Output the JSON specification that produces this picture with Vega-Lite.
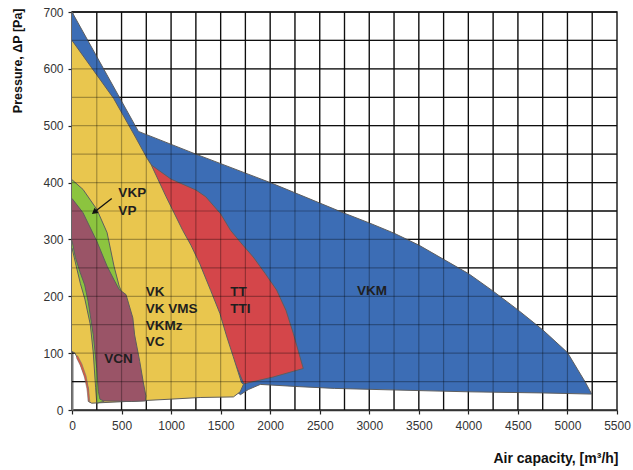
{
  "$schema": "https://vega.github.io/schema/vega-lite/v6.json",
  "width": 545,
  "height": 398,
  "autosize": "none",
  "padding": {"left": 72, "top": 12, "right": 16, "bottom": 60},
  "background": "white",
  "config": {"view": {"stroke": "#222", "strokeWidth": 1.5}, "font": "Liberation Sans"},
  "datasets": {
    "poly": [
      {"p": "blue", "i": 0, "x": 0, "y": 700},
      {"p": "blue", "i": 1, "x": 670, "y": 490},
      {"p": "blue", "i": 2, "x": 1250, "y": 450},
      {"p": "blue", "i": 3, "x": 2000, "y": 400},
      {"p": "blue", "i": 4, "x": 2500, "y": 364},
      {"p": "blue", "i": 5, "x": 2750, "y": 346},
      {"p": "blue", "i": 6, "x": 3000, "y": 329},
      {"p": "blue", "i": 7, "x": 3250, "y": 311},
      {"p": "blue", "i": 8, "x": 3500, "y": 290},
      {"p": "blue", "i": 9, "x": 3750, "y": 265},
      {"p": "blue", "i": 10, "x": 4000, "y": 240},
      {"p": "blue", "i": 11, "x": 4250, "y": 209},
      {"p": "blue", "i": 12, "x": 4500, "y": 176},
      {"p": "blue", "i": 13, "x": 4750, "y": 141},
      {"p": "blue", "i": 14, "x": 5000, "y": 101},
      {"p": "blue", "i": 15, "x": 5100, "y": 72},
      {"p": "blue", "i": 16, "x": 5180, "y": 49},
      {"p": "blue", "i": 17, "x": 5245, "y": 28},
      {"p": "blue", "i": 18, "x": 4750, "y": 30},
      {"p": "blue", "i": 19, "x": 4000, "y": 32},
      {"p": "blue", "i": 20, "x": 3300, "y": 35},
      {"p": "blue", "i": 21, "x": 2650, "y": 38},
      {"p": "blue", "i": 22, "x": 2300, "y": 41},
      {"p": "blue", "i": 23, "x": 2000, "y": 44},
      {"p": "blue", "i": 24, "x": 1900, "y": 45},
      {"p": "blue", "i": 25, "x": 1780, "y": 36},
      {"p": "blue", "i": 26, "x": 1700, "y": 27},
      {"p": "blue", "i": 27, "x": 1600, "y": 40},
      {"p": "blue", "i": 28, "x": 800, "y": 300},
      {"p": "blue", "i": 29, "x": 0, "y": 600},

      {"p": "red", "i": 0, "x": 760, "y": 442},
      {"p": "red", "i": 1, "x": 800, "y": 431},
      {"p": "red", "i": 2, "x": 1000, "y": 406},
      {"p": "red", "i": 3, "x": 1250, "y": 387},
      {"p": "red", "i": 4, "x": 1350, "y": 375},
      {"p": "red", "i": 5, "x": 1500, "y": 345},
      {"p": "red", "i": 6, "x": 1600, "y": 316},
      {"p": "red", "i": 7, "x": 1700, "y": 295},
      {"p": "red", "i": 8, "x": 1829, "y": 269},
      {"p": "red", "i": 9, "x": 1950, "y": 240},
      {"p": "red", "i": 10, "x": 2065, "y": 211},
      {"p": "red", "i": 11, "x": 2160, "y": 175},
      {"p": "red", "i": 12, "x": 2233, "y": 135},
      {"p": "red", "i": 13, "x": 2290, "y": 100},
      {"p": "red", "i": 14, "x": 2334, "y": 73},
      {"p": "red", "i": 15, "x": 2030, "y": 58},
      {"p": "red", "i": 16, "x": 1735, "y": 46},
      {"p": "red", "i": 17, "x": 1600, "y": 100},
      {"p": "red", "i": 18, "x": 900, "y": 380},

      {"p": "yellow", "i": 0, "x": 0, "y": 650},
      {"p": "yellow", "i": 1, "x": 420, "y": 548},
      {"p": "yellow", "i": 2, "x": 640, "y": 480},
      {"p": "yellow", "i": 3, "x": 760, "y": 442},
      {"p": "yellow", "i": 4, "x": 800, "y": 431},
      {"p": "yellow", "i": 5, "x": 950, "y": 375},
      {"p": "yellow", "i": 6, "x": 1117, "y": 316},
      {"p": "yellow", "i": 7, "x": 1200, "y": 290},
      {"p": "yellow", "i": 8, "x": 1290, "y": 257},
      {"p": "yellow", "i": 9, "x": 1400, "y": 210},
      {"p": "yellow", "i": 10, "x": 1492, "y": 170},
      {"p": "yellow", "i": 11, "x": 1560, "y": 130},
      {"p": "yellow", "i": 12, "x": 1627, "y": 94},
      {"p": "yellow", "i": 13, "x": 1711, "y": 48},
      {"p": "yellow", "i": 14, "x": 1730, "y": 45},
      {"p": "yellow", "i": 15, "x": 1697, "y": 32},
      {"p": "yellow", "i": 16, "x": 1629, "y": 23},
      {"p": "yellow", "i": 17, "x": 1293, "y": 22},
      {"p": "yellow", "i": 18, "x": 990, "y": 19},
      {"p": "yellow", "i": 19, "x": 552, "y": 15},
      {"p": "yellow", "i": 20, "x": 199, "y": 12},
      {"p": "yellow", "i": 21, "x": 165, "y": 15},
      {"p": "yellow", "i": 22, "x": 163, "y": 38},
      {"p": "yellow", "i": 23, "x": 131, "y": 59},
      {"p": "yellow", "i": 24, "x": 81, "y": 82},
      {"p": "yellow", "i": 25, "x": 30, "y": 100},
      {"p": "yellow", "i": 26, "x": 0, "y": 103},

      {"p": "orange", "i": 0, "x": 45, "y": 92},
      {"p": "orange", "i": 1, "x": 85, "y": 78},
      {"p": "orange", "i": 2, "x": 125, "y": 58},
      {"p": "orange", "i": 3, "x": 150, "y": 38},
      {"p": "orange", "i": 4, "x": 165, "y": 16},
      {"p": "orange", "i": 5, "x": 180, "y": 14},
      {"p": "orange", "i": 6, "x": 168, "y": 36},
      {"p": "orange", "i": 7, "x": 142, "y": 60},
      {"p": "orange", "i": 8, "x": 100, "y": 81},
      {"p": "orange", "i": 9, "x": 55, "y": 96},

      {"p": "green", "i": 0, "x": 0, "y": 405},
      {"p": "green", "i": 1, "x": 111, "y": 388},
      {"p": "green", "i": 2, "x": 250, "y": 353},
      {"p": "green", "i": 3, "x": 354, "y": 312},
      {"p": "green", "i": 4, "x": 424, "y": 253},
      {"p": "green", "i": 5, "x": 476, "y": 218},
      {"p": "green", "i": 6, "x": 493, "y": 211},
      {"p": "green", "i": 7, "x": 500, "y": 150},
      {"p": "green", "i": 8, "x": 320, "y": 15},
      {"p": "green", "i": 9, "x": 250, "y": 12},
      {"p": "green", "i": 10, "x": 238, "y": 40},
      {"p": "green", "i": 11, "x": 215, "y": 100},
      {"p": "green", "i": 12, "x": 185, "y": 150},
      {"p": "green", "i": 13, "x": 130, "y": 195},
      {"p": "green", "i": 14, "x": 85, "y": 222},
      {"p": "green", "i": 15, "x": 40, "y": 255},
      {"p": "green", "i": 16, "x": 0, "y": 285},

      {"p": "purple", "i": 0, "x": 0, "y": 372},
      {"p": "purple", "i": 1, "x": 111, "y": 347},
      {"p": "purple", "i": 2, "x": 250, "y": 297},
      {"p": "purple", "i": 3, "x": 354, "y": 253},
      {"p": "purple", "i": 4, "x": 424, "y": 229},
      {"p": "purple", "i": 5, "x": 476, "y": 212},
      {"p": "purple", "i": 6, "x": 545, "y": 203},
      {"p": "purple", "i": 7, "x": 614, "y": 162},
      {"p": "purple", "i": 8, "x": 632, "y": 132},
      {"p": "purple", "i": 9, "x": 684, "y": 85},
      {"p": "purple", "i": 10, "x": 718, "y": 50},
      {"p": "purple", "i": 11, "x": 745, "y": 25},
      {"p": "purple", "i": 12, "x": 740, "y": 16},
      {"p": "purple", "i": 13, "x": 600, "y": 15},
      {"p": "purple", "i": 14, "x": 320, "y": 16},
      {"p": "purple", "i": 15, "x": 282, "y": 19},
      {"p": "purple", "i": 16, "x": 267, "y": 32},
      {"p": "purple", "i": 17, "x": 250, "y": 73},
      {"p": "purple", "i": 18, "x": 215, "y": 132},
      {"p": "purple", "i": 19, "x": 163, "y": 191},
      {"p": "purple", "i": 20, "x": 128, "y": 220},
      {"p": "purple", "i": 21, "x": 80, "y": 243},
      {"p": "purple", "i": 22, "x": 35, "y": 268},
      {"p": "purple", "i": 23, "x": 0, "y": 298}
    ],
    "vgrid": [
      {"x": 250}, {"x": 500}, {"x": 750}, {"x": 1000}, {"x": 1250}, {"x": 1500}, {"x": 1750},
      {"x": 2000}, {"x": 2250}, {"x": 2500}, {"x": 2750}, {"x": 3000}, {"x": 3250}, {"x": 3500},
      {"x": 3750}, {"x": 4000}, {"x": 4250}, {"x": 4500}, {"x": 4750}, {"x": 5000}, {"x": 5250}
    ],
    "hgrid": [
      {"y": 50}, {"y": 100}, {"y": 150}, {"y": 200}, {"y": 250}, {"y": 300}, {"y": 350},
      {"y": 400}, {"y": 450}, {"y": 500}, {"y": 550}, {"y": 600}, {"y": 650}, {"y": 700}
    ],
    "over": [
      {"ax": 250, "ay": 0, "bx": 250, "by": 700}, {"ax": 500, "ay": 0, "bx": 500, "by": 700},
      {"ax": 750, "ay": 0, "bx": 750, "by": 700}, {"ax": 1000, "ay": 0, "bx": 1000, "by": 700},
      {"ax": 1250, "ay": 0, "bx": 1250, "by": 700}, {"ax": 1500, "ay": 0, "bx": 1500, "by": 700},
      {"ax": 1750, "ay": 0, "bx": 1750, "by": 700}, {"ax": 2000, "ay": 0, "bx": 2000, "by": 700},
      {"ax": 2250, "ay": 0, "bx": 2250, "by": 700}, {"ax": 2500, "ay": 0, "bx": 2500, "by": 700},
      {"ax": 2750, "ay": 0, "bx": 2750, "by": 700}, {"ax": 3000, "ay": 0, "bx": 3000, "by": 700},
      {"ax": 3250, "ay": 0, "bx": 3250, "by": 700}, {"ax": 3500, "ay": 0, "bx": 3500, "by": 700},
      {"ax": 3750, "ay": 0, "bx": 3750, "by": 700}, {"ax": 4000, "ay": 0, "bx": 4000, "by": 700},
      {"ax": 4250, "ay": 0, "bx": 4250, "by": 700}, {"ax": 4500, "ay": 0, "bx": 4500, "by": 700},
      {"ax": 4750, "ay": 0, "bx": 4750, "by": 700}, {"ax": 5000, "ay": 0, "bx": 5000, "by": 700},
      {"ax": 5250, "ay": 0, "bx": 5250, "by": 700},
      {"ax": 0, "ay": 50, "bx": 5500, "by": 50}, {"ax": 0, "ay": 100, "bx": 5500, "by": 100},
      {"ax": 0, "ay": 150, "bx": 5500, "by": 150}, {"ax": 0, "ay": 200, "bx": 5500, "by": 200},
      {"ax": 0, "ay": 250, "bx": 5500, "by": 250}, {"ax": 0, "ay": 300, "bx": 5500, "by": 300},
      {"ax": 0, "ay": 350, "bx": 5500, "by": 350}, {"ax": 0, "ay": 400, "bx": 5500, "by": 400},
      {"ax": 0, "ay": 450, "bx": 5500, "by": 450}, {"ax": 0, "ay": 500, "bx": 5500, "by": 500},
      {"ax": 0, "ay": 550, "bx": 5500, "by": 550}, {"ax": 0, "ay": 600, "bx": 5500, "by": 600},
      {"ax": 0, "ay": 650, "bx": 5500, "by": 650}
    ],
    "labels": [
      {"t": "VKP", "x": 468, "y": 382},
      {"t": "VP", "x": 468, "y": 350},
      {"t": "VK", "x": 744, "y": 208},
      {"t": "VK VMS", "x": 744, "y": 178},
      {"t": "VKMz", "x": 744, "y": 148},
      {"t": "VC", "x": 744, "y": 119},
      {"t": "TT", "x": 1596, "y": 208},
      {"t": "TTI", "x": 1596, "y": 178},
      {"t": "VCN", "x": 326, "y": 89},
      {"t": "VKM", "x": 2875, "y": 209}
    ],
    "arrow": [{"x": 401, "y": 372, "x2": 239, "y2": 350}],
    "head": [{"x": 232, "y": 349}]
  },
  "layer": [
    {
      "data": {"name": "vgrid"},
      "mark": {"type": "rule", "color": "#161616", "opacity": 1, "strokeWidth": 1.3},
      "encoding": {
        "x": {
          "field": "x", "type": "quantitative", "title": "Air capacity, [m³/h]",
          "scale": {"domain": [0, 5500], "nice": false, "zero": false},
          "axis": {
            "values": [0,250,500,750,1000,1250,1500,1750,2000,2250,2500,2750,3000,3250,3500,3750,4000,4250,4500,4750,5000,5250,5500],
            "labelExpr": "datum.value % 500 === 0 ? datum.label : ''",
            "format": "d",
            "grid": false,
            "tickColor": "#222", "tickSize": 4, "tickWidth": 1.2,
            "domainColor": "#333", "domainWidth": 1.5,
            "labelFontSize": 12, "labelColor": "#333", "labelPadding": 6, "labelFlush": false,
            "titleFontSize": 14, "titleFontWeight": "bold", "titleColor": "#111",
            "titleAnchor": "end", "titleAlign": "right", "titleBaseline": "alphabetic",
            "titleX": 546, "titleY": 52
          }
        }
      }
    },
    {
      "data": {"name": "hgrid"},
      "mark": {"type": "rule", "color": "#161616", "opacity": 1, "strokeWidth": 1.3},
      "encoding": {
        "y": {
          "field": "y", "type": "quantitative", "title": "Pressure, ΔP [Pa]",
          "scale": {"domain": [0, 700], "nice": false, "zero": false},
          "axis": {
            "values": [0,50,100,150,200,250,300,350,400,450,500,550,600,650,700],
            "labelExpr": "datum.value % 100 === 0 ? datum.label : ''",
            "grid": false,
            "tickColor": "#222", "tickSize": 4, "tickWidth": 1.2,
            "domainColor": "#777", "domainWidth": 2,
            "labelFontSize": 12, "labelColor": "#333", "labelPadding": 5,
            "titleFontSize": 12.5, "titleFontWeight": "bold", "titleColor": "#111",
            "titleAngle": -90, "titleAlign": "right", "titleBaseline": "middle",
            "titleX": -55, "titleY": -4
          }
        }
      }
    },
    {
      "data": {"name": "poly"},
      "transform": [{"filter": "datum.p === 'blue'"}],
      "mark": {"type": "line", "fill": "#3c6db5", "stroke": "#5e5e5e", "strokeWidth": 1},
      "encoding": {
        "x": {"field": "x", "type": "quantitative", "title": "Air capacity, [m³/h]"},
        "y": {"field": "y", "type": "quantitative", "title": "Pressure, ΔP [Pa]"},
        "order": {"field": "i", "type": "quantitative"}
      }
    },
    {
      "data": {"name": "poly"},
      "transform": [{"filter": "datum.p === 'red'"}],
      "mark": {"type": "line", "fill": "#d4464a", "stroke": "#5e5e5e", "strokeWidth": 1},
      "encoding": {
        "x": {"field": "x", "type": "quantitative", "title": "Air capacity, [m³/h]"},
        "y": {"field": "y", "type": "quantitative", "title": "Pressure, ΔP [Pa]"},
        "order": {"field": "i", "type": "quantitative"}
      }
    },
    {
      "data": {"name": "poly"},
      "transform": [{"filter": "datum.p === 'yellow'"}],
      "mark": {"type": "line", "fill": "#e9c64e", "stroke": "#5e5e5e", "strokeWidth": 1},
      "encoding": {
        "x": {"field": "x", "type": "quantitative", "title": "Air capacity, [m³/h]"},
        "y": {"field": "y", "type": "quantitative", "title": "Pressure, ΔP [Pa]"},
        "order": {"field": "i", "type": "quantitative"}
      }
    },
    {
      "data": {"name": "poly"},
      "transform": [{"filter": "datum.p === 'orange'"}],
      "mark": {"type": "line", "fill": "#dd5a3e", "stroke": "#777", "strokeWidth": 0.6},
      "encoding": {
        "x": {"field": "x", "type": "quantitative", "title": "Air capacity, [m³/h]"},
        "y": {"field": "y", "type": "quantitative", "title": "Pressure, ΔP [Pa]"},
        "order": {"field": "i", "type": "quantitative"}
      }
    },
    {
      "data": {"name": "poly"},
      "transform": [{"filter": "datum.p === 'green'"}],
      "mark": {"type": "line", "fill": "#8cc43f", "stroke": "#5e5e5e", "strokeWidth": 1},
      "encoding": {
        "x": {"field": "x", "type": "quantitative", "title": "Air capacity, [m³/h]"},
        "y": {"field": "y", "type": "quantitative", "title": "Pressure, ΔP [Pa]"},
        "order": {"field": "i", "type": "quantitative"}
      }
    },
    {
      "data": {"name": "poly"},
      "transform": [{"filter": "datum.p === 'purple'"}],
      "mark": {"type": "line", "fill": "#9a5467", "stroke": "#5e5e5e", "strokeWidth": 1},
      "encoding": {
        "x": {"field": "x", "type": "quantitative", "title": "Air capacity, [m³/h]"},
        "y": {"field": "y", "type": "quantitative", "title": "Pressure, ΔP [Pa]"},
        "order": {"field": "i", "type": "quantitative"}
      }
    },
    {
      "data": {"name": "over"},
      "mark": {"type": "rule", "color": "#000", "opacity": 0.3, "strokeWidth": 1.2},
      "encoding": {
        "x": {"field": "ax", "type": "quantitative", "title": "Air capacity, [m³/h]"},
        "y": {"field": "ay", "type": "quantitative", "title": "Pressure, ΔP [Pa]"},
        "x2": {"field": "bx"},
        "y2": {"field": "by"}
      }
    },
    {
      "data": {"name": "arrow"},
      "mark": {"type": "rule", "color": "#111", "strokeWidth": 1.3},
      "encoding": {
        "x": {"field": "x", "type": "quantitative", "title": "Air capacity, [m³/h]"},
        "y": {"field": "y", "type": "quantitative", "title": "Pressure, ΔP [Pa]"},
        "x2": {"field": "x2"},
        "y2": {"field": "y2"}
      }
    },
    {
      "data": {"name": "head"},
      "mark": {"type": "point", "shape": "triangle", "filled": true, "color": "#111", "opacity": 1, "size": 45, "angle": 233},
      "encoding": {
        "x": {"field": "x", "type": "quantitative", "title": "Air capacity, [m³/h]"},
        "y": {"field": "y", "type": "quantitative", "title": "Pressure, ΔP [Pa]"}
      }
    },
    {
      "data": {"name": "labels"},
      "mark": {"type": "text", "align": "left", "baseline": "middle", "fontSize": 13.5, "fontWeight": "bold", "color": "#1f1f1f", "font": "Liberation Sans"},
      "encoding": {
        "x": {"field": "x", "type": "quantitative", "title": "Air capacity, [m³/h]"},
        "y": {"field": "y", "type": "quantitative", "title": "Pressure, ΔP [Pa]"},
        "text": {"field": "t"}
      }
    }
  ]
}
